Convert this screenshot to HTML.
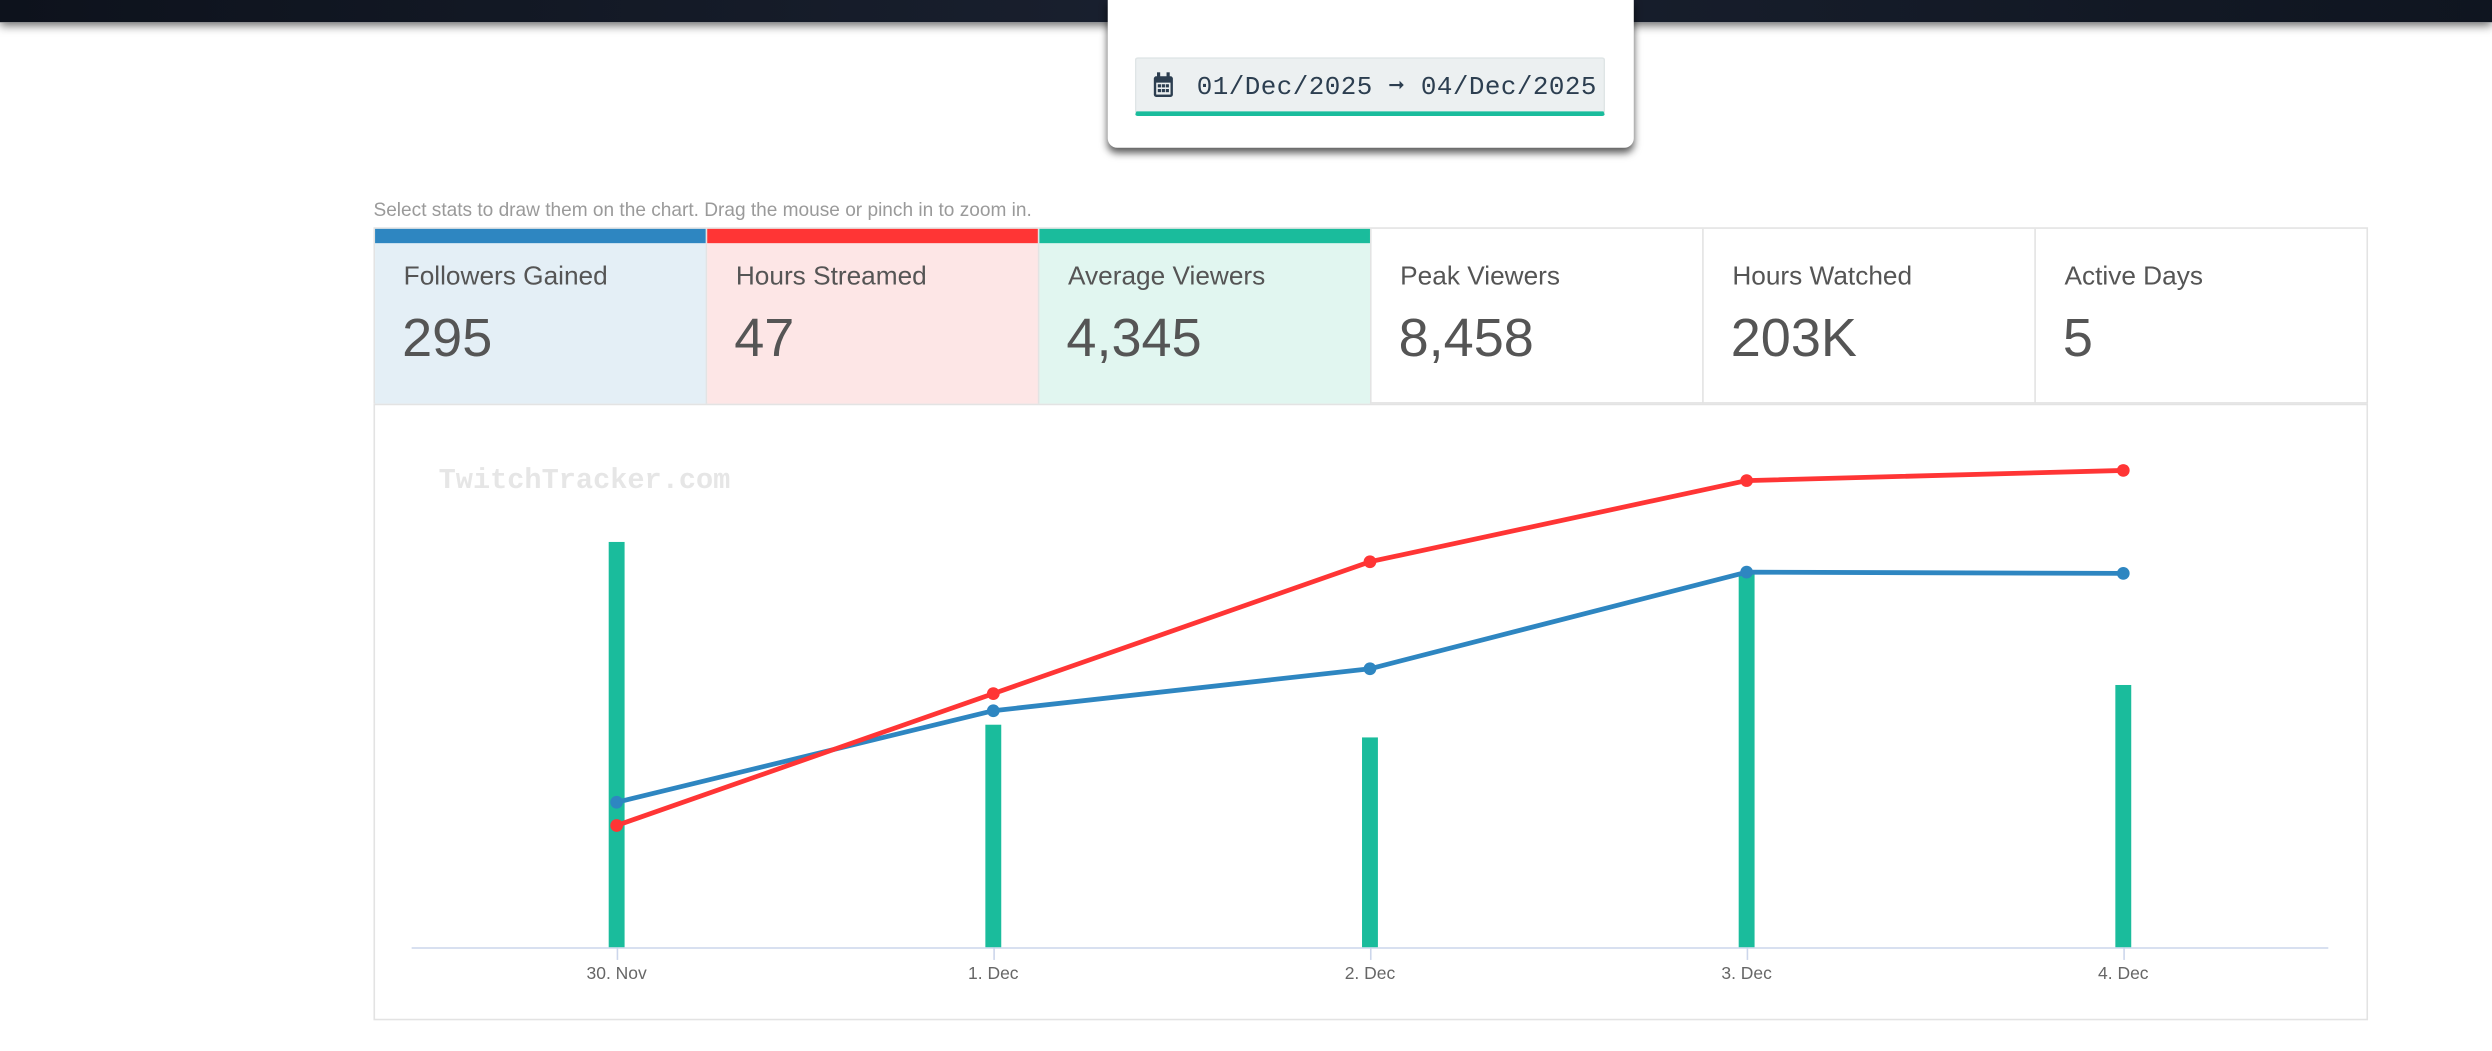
<!DOCTYPE html>
<html><head><meta charset="utf-8">
<style>
html,body{margin:0;padding:0;width:2492px;height:1051px;overflow:hidden;background:#fff;font-family:"Liberation Sans",sans-serif;}
#wrap{position:absolute;left:0;top:0;width:1568px;height:661px;transform:scale(1.58929);transform-origin:0 0;}
.topbar{position:absolute;left:0;top:0;width:1568px;height:14px;background:linear-gradient(90deg,#0d121c,#1a2130 50%,#0f1520);box-shadow:0 2px 6px rgba(0,0,0,.6);}
.popup{position:absolute;left:697px;top:0;width:331px;height:93px;background:#fff;border-radius:0 0 6px 6px;box-shadow:0 3px 5px rgba(0,0,0,.65);}
.dateinput{position:absolute;left:17px;top:36px;width:294px;height:33px;background:#ecf0f1;border:1px solid #dfe5e6;border-bottom:3px solid #1abc9c;border-radius:2px;}
.dtext{position:absolute;left:38px;top:7px;font-family:"Liberation Mono",monospace;font-size:16.3px;letter-spacing:0.3px;color:#2c3e50;white-space:nowrap;}
.caption{position:absolute;left:235px;top:125px;font-size:12px;color:#9a9a9a;}
.cards{position:absolute;left:235px;top:143px;width:1255px;height:111px;border:1px solid #e3e3e3;box-sizing:border-box;}
.card{position:absolute;top:0;height:110px;width:209px;box-sizing:border-box;border-right:1px solid #e3e3e3;}
.card .bar{position:absolute;left:0;top:0;width:100%;height:9px;}
.card .lbl{position:absolute;left:18px;top:21px;font-size:16.5px;color:#555;}
.card .val{position:absolute;left:17px;top:50px;font-size:34px;color:#555;}
.chartbox{position:absolute;left:235px;top:254px;width:1255px;height:388px;border:1px solid #e3e3e3;box-sizing:border-box;}
</style></head><body>
<div id="wrap">
<div class="topbar"></div>
<div class="popup">
 <div class="dateinput">
  <svg style="position:absolute;left:10px;top:8px" width="14" height="17" viewBox="0 0 14 17"><rect x="1" y="3" width="12" height="13" rx="1.5" fill="#2c3e50"/><rect x="3" y="0.5" width="2" height="4" fill="#2c3e50"/><rect x="9" y="0.5" width="2" height="4" fill="#2c3e50"/><rect x="2.5" y="7" width="9" height="7.5" fill="#ecf0f1"/><g fill="#2c3e50"><rect x="3.5" y="8" width="2" height="2"/><rect x="6" y="8" width="2" height="2"/><rect x="8.5" y="8" width="2" height="2"/><rect x="3.5" y="11" width="2" height="2"/><rect x="6" y="11" width="2" height="2"/><rect x="8.5" y="11" width="2" height="2"/></g></svg>
  <div class="dtext">01/Dec/2025 ➞ 04/Dec/2025</div>
 </div>
</div>
<div class="caption">Select stats to draw them on the chart. Drag the mouse or pinch in to zoom in.</div>
<div class="cards">
 <div class="card" style="left:0;background:#e4eff6"><div class="bar" style="background:#2e86c1"></div><div class="lbl">Followers Gained</div><div class="val">295</div></div>
 <div class="card" style="left:209px;background:#fde6e6"><div class="bar" style="background:#ff3535"></div><div class="lbl">Hours Streamed</div><div class="val">47</div></div>
 <div class="card" style="left:418px;background:#e1f6f0"><div class="bar" style="background:#1abc9c"></div><div class="lbl">Average Viewers</div><div class="val">4,345</div></div>
 <div class="card" style="left:627px"><div class="lbl">Peak Viewers</div><div class="val">8,458</div></div>
 <div class="card" style="left:836px"><div class="lbl">Hours Watched</div><div class="val">203K</div></div>
 <div class="card" style="left:1045px;border-right:none"><div class="lbl">Active Days</div><div class="val">5</div></div>
</div>
<div class="chartbox"></div>
<svg id="chart" style="position:absolute;left:0;top:0" width="1568" height="661"></svg>
</div>
<script>
const categories=["30. Nov","1. Dec","2. Dec","3. Dec","4. Dec"];
const avgViewers=[5100,2800,2640,4720,3300];
const hoursStreamed=[12,25,38,46,47];
const followersGained=[114,186,219,295,294];
const avgMax=6000, hoursMax=47, followersMax=375;
const svg=document.getElementById('chart');
const NS='http://www.w3.org/2000/svg';
const x0=388, dx=237, yBottom=596, plotH=300;
function xPos(i){return x0+i*dx;}
function yScale(v,max){return yBottom-v/max*plotH;}
function mk(tag,attrs){const e=document.createElementNS(NS,tag);for(const k in attrs)e.setAttribute(k,attrs[k]);svg.appendChild(e);return e;}
let t=mk('text',{x:276,y:307,'font-family':'Liberation Mono, monospace','font-weight':'bold','font-size':18,fill:'#e6e6e6'});
t.textContent='TwitchTracker.com';


let ax=mk('line',{x1:259,x2:1465,y1:yBottom+0.5,y2:yBottom+0.5,stroke:'#ccd6eb','stroke-width':1});


categories.forEach((c,i)=>{
  const tk=mk('line',{x1:xPos(i)+0.5,x2:xPos(i)+0.5,y1:yBottom,y2:yBottom+8,stroke:'#ccd6eb'});
  
  
  const l=mk('text',{x:xPos(i),y:616,'text-anchor':'middle','font-size':11,fill:'#666'});
  l.textContent=c;
  
  
});
avgViewers.forEach((v,i)=>{
  const y=yScale(v,avgMax);
  const b=mk('rect',{x:xPos(i)-5,y:y,width:10,height:yBottom-y,fill:'#1abc9c'});
  
  
});
function line(vals,max,color,name){
  const pts=vals.map((v,i)=>xPos(i)+','+yScale(v,max)).join(' ');
  const p=mk('polyline',{points:pts,fill:'none',stroke:color,'stroke-width':3,'stroke-linejoin':'round'});
  
  
  vals.forEach((v,i)=>{
    const c=mk('circle',{cx:xPos(i),cy:yScale(v,max),r:4,fill:color});
    
    
  });
}
line(followersGained,followersMax,'#2e86c1','followers');
line(hoursStreamed,hoursMax,'#ff3535','hours-streamed');
</script>
</body></html>
